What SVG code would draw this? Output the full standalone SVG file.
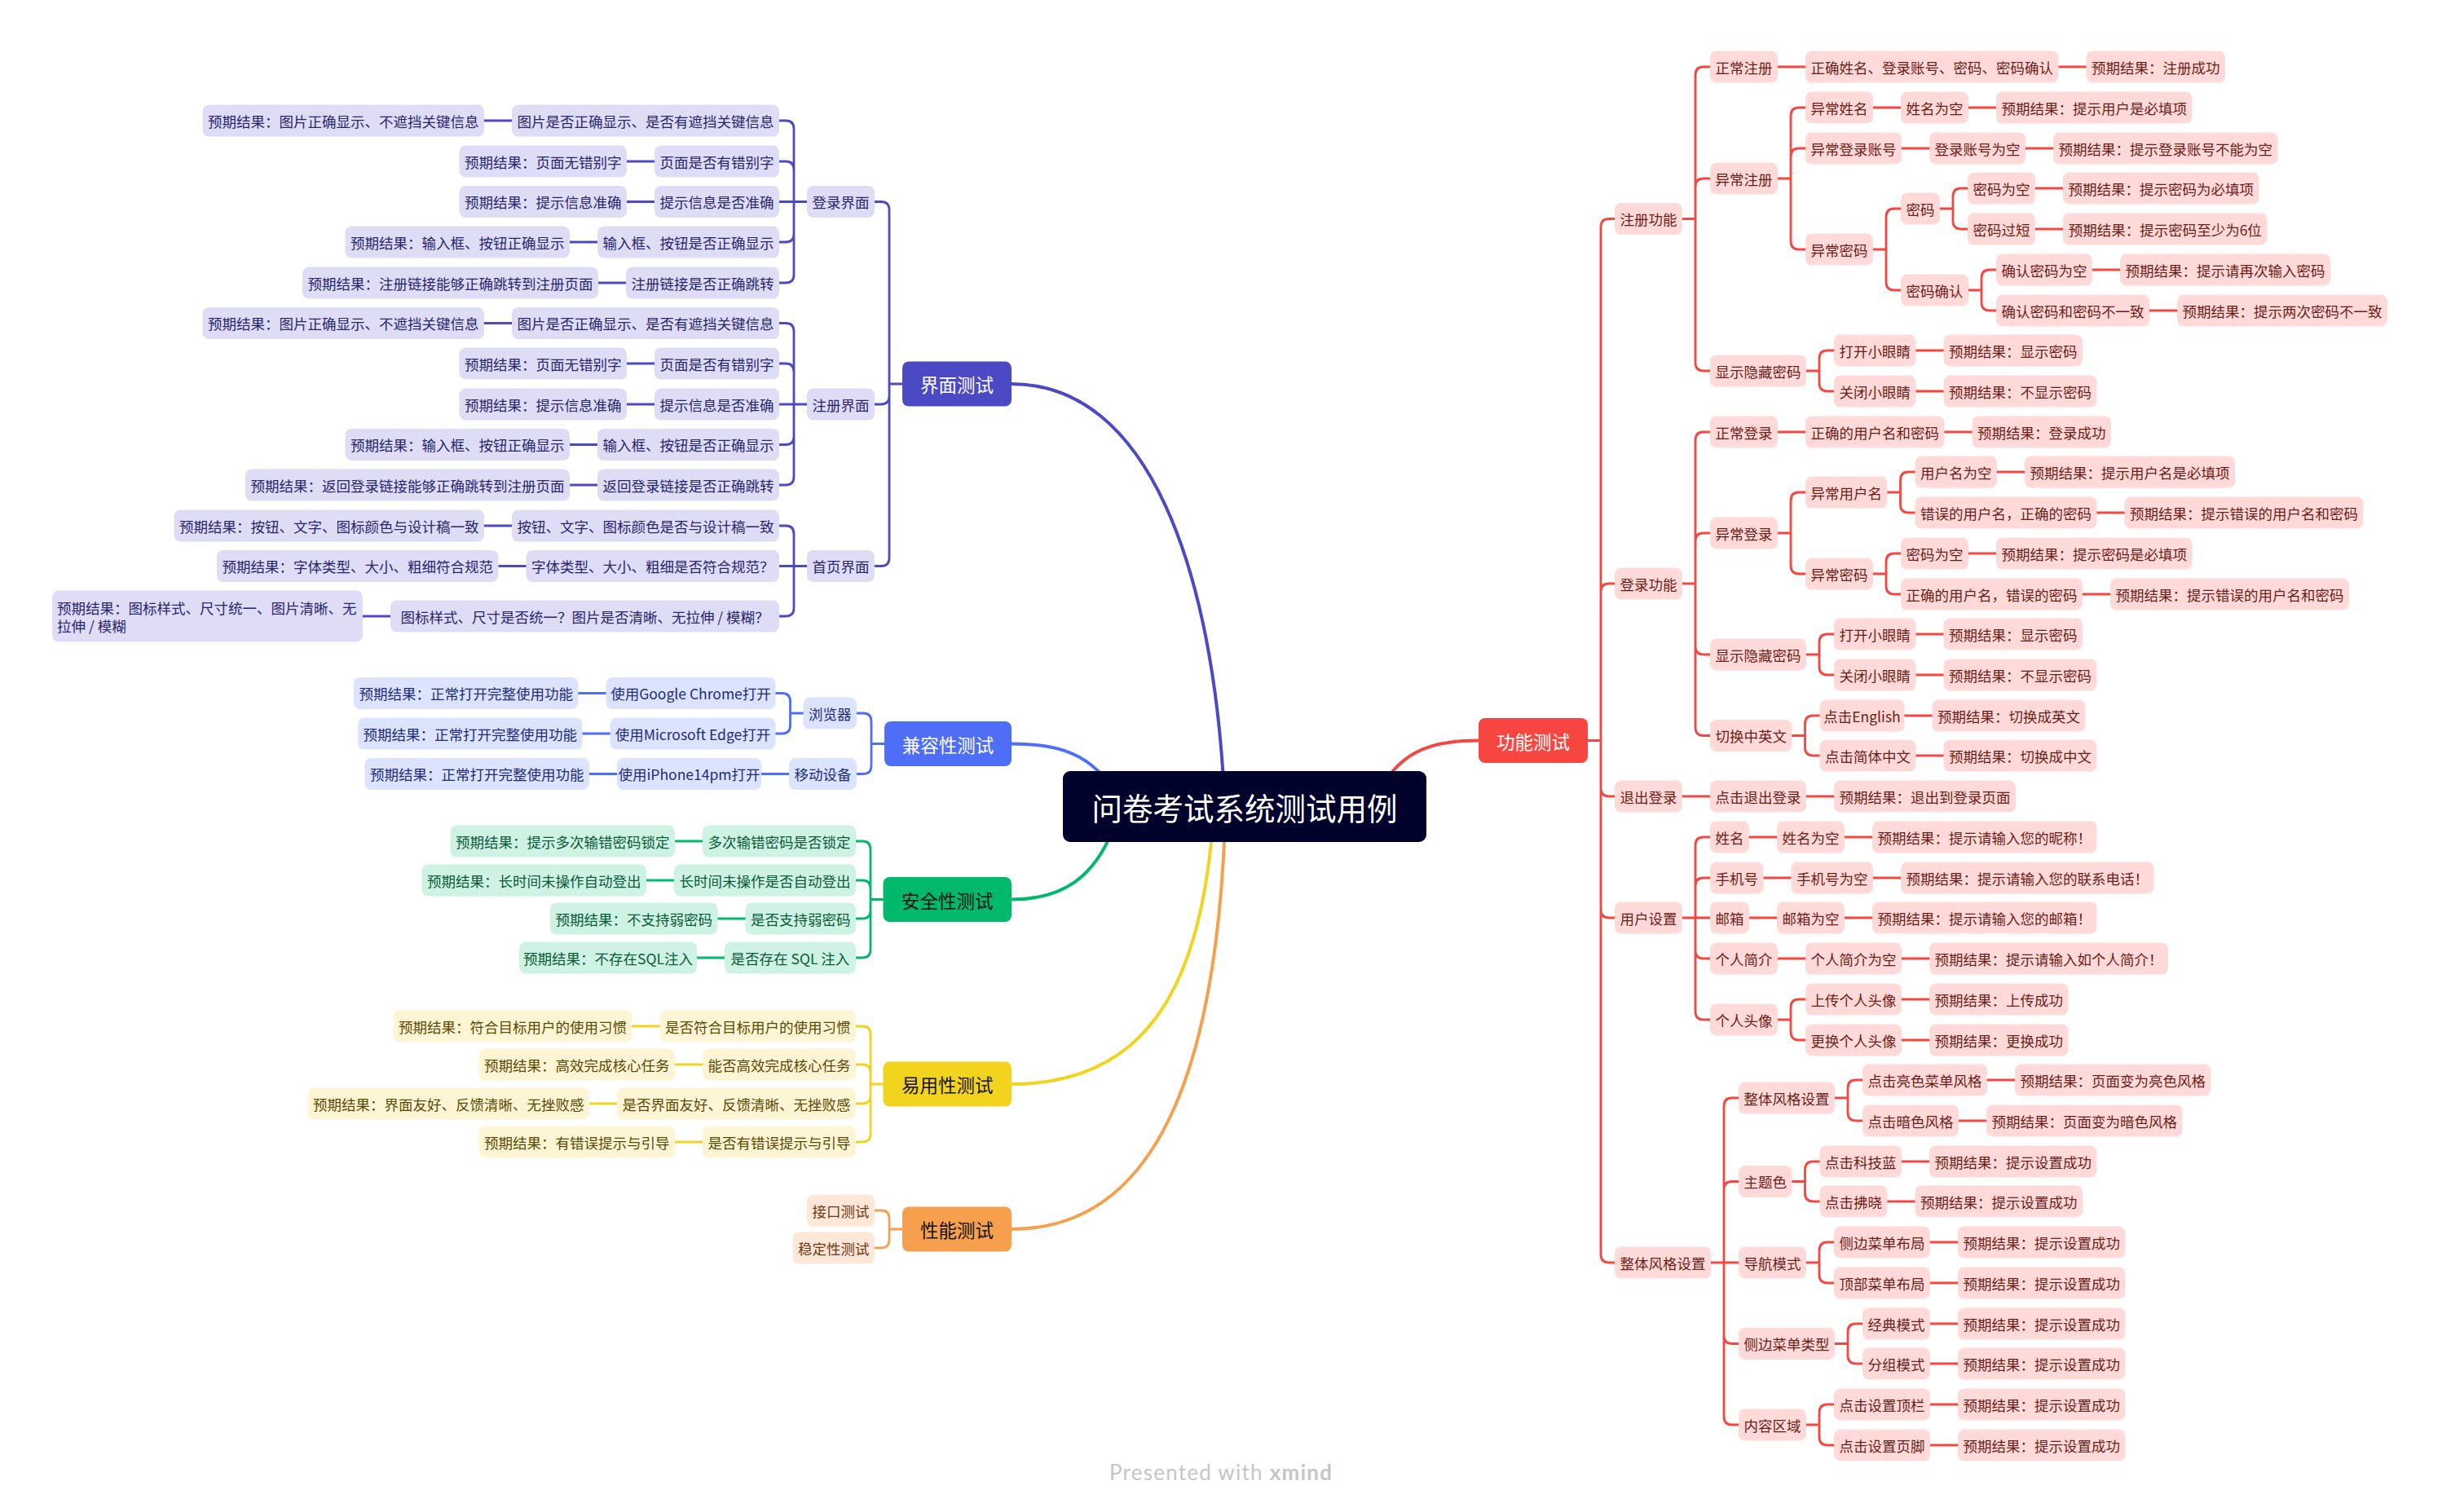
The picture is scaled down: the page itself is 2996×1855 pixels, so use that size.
<svg xmlns="http://www.w3.org/2000/svg" width="2996" height="1855" viewBox="0 0 2996 1855">
<style>
text{font-family:"Noto Sans CJK SC","Noto Sans",sans-serif;font-size:17.5px;text-anchor:middle;dominant-baseline:central}
.m text{font-size:22.5px}
.R rect{fill:#FFDAD8}.R text{fill:#6E1C17}
.V rect{fill:#DEDDF5}.V text{fill:#28256E}
.B rect{fill:#DCE3FE}.B text{fill:#1C2C78}
.G rect{fill:#CEF2E3}.G text{fill:#0A5B3A}
.Y rect{fill:#FDF5D4}.Y text{fill:#5B4A05}
.O rect{fill:#FDE7D8}.O text{fill:#6F3811}
.mR rect{fill:#F7463F}.mR text{fill:#fff}
.mV rect{fill:#4C49C5}.mV text{fill:#fff}
.mB rect{fill:#4F6EF7}.mB text{fill:#fff}
.mG rect{fill:#00B96B}.mG text{fill:#111}
.mY rect{fill:#F2D31E}.mY text{fill:#111}
.mO rect{fill:#F6A04E}.mO text{fill:#111}
.c{fill:none;stroke-width:2.8;stroke-linecap:round;stroke-linejoin:round}
.k{fill:none;stroke-width:4;stroke-linecap:round}
.cR{stroke:#F7463F}.cV{stroke:#4C49C5}.cB{stroke:#4F6EF7}.cG{stroke:#00B96B}.cY{stroke:#F2D31E}.cO{stroke:#F6A04E}
.foot{font-family:Lato,"Liberation Sans",sans-serif;font-size:26px;fill:#C6C6C6;text-anchor:start;dominant-baseline:alphabetic}
</style>
<rect width="2996" height="1855" fill="#fff"/>
<g id="connectors">
<path class="k cV" d="M1502,975 C1488,700 1410,471 1241,471"/>
<path class="k cB" d="M1370,975 C1340,925 1300,912.5 1241,912.5"/>
<path class="k cG" d="M1370,1005 C1345,1080 1300,1103.5 1241,1103.5"/>
<path class="k cY" d="M1488,1010 C1472,1220 1400,1330 1241,1330"/>
<path class="k cO" d="M1503,1010 C1492,1310 1420,1508 1241,1508"/>
<path class="k cR" d="M1690,975 C1715,925 1750,908.5 1814,908.5"/>
<path class="c cR" d="M1948,908.5 H1964 V278.5 Q1964,268.5 1974,268.5 H1981 M1964,908.5 V726 Q1964,716 1974,716 H1981 M1964,908.5 V967 Q1964,977 1974,977 H1981 M1964,908.5 V1116 Q1964,1126 1974,1126 H1981 M1964,908.5 V1539 Q1964,1549 1974,1549 H1981"/>
<path class="c cR" d="M2064,268.5 H2080 V92 Q2080,82 2090,82 H2098 M2080,268.5 V229 Q2080,219 2090,219 H2098 M2080,268.5 V445 Q2080,455 2090,455 H2098 M2181,82 H2215 M2525.5,82 H2559.5"/>
<path class="c cR" d="M2181,219 H2197 V142 Q2197,132 2207,132 H2215 M2197,219 V192 Q2197,182 2207,182 H2215 M2197,219 V296 Q2197,306 2207,306 H2215 M2298,132 H2332 M2415,132 H2449 M2333,182 H2367 M2485,182 H2519"/>
<path class="c cR" d="M2298,306 H2314 V266 Q2314,256 2324,256 H2332 M2314,306 V346 Q2314,356 2324,356 H2332 M2380,256 H2396 V241 Q2396,231 2406,231 H2414 M2396,256 V271 Q2396,281 2406,281 H2414 M2497,231 H2531 M2497,281 H2531 M2415,356 H2431 V341 Q2431,331 2441,331 H2449 M2431,356 V371 Q2431,381 2441,381 H2449 M2567,331 H2601 M2637,381 H2671"/>
<path class="c cR" d="M2216,455 H2232 V440 Q2232,430 2242,430 H2250 M2232,455 V470 Q2232,480 2242,480 H2250 M2350.5,430 H2384.5 M2350.5,480 H2384.5"/>
<path class="c cR" d="M2064,716 H2080 V540 Q2080,530 2090,530 H2098 M2080,716 V664 Q2080,654 2090,654 H2098 M2080,716 V793 Q2080,803 2090,803 H2098 M2080,716 V892.5 Q2080,902.5 2090,902.5 H2098 M2181,530 H2215 M2385.5,530 H2419.5"/>
<path class="c cR" d="M2181,654 H2197 V614 Q2197,604 2207,604 H2215 M2197,654 V694 Q2197,704 2207,704 H2215 M2315.5,604 H2331.5 V589 Q2331.5,579 2341.5,579 H2349.5 M2331.5,604 V619 Q2331.5,629 2341.5,629 H2349.5 M2450,579 H2484 M2572.5,629 H2606.5 M2298,704 H2314 V689 Q2314,679 2324,679 H2332 M2314,704 V719 Q2314,729 2324,729 H2332 M2415,679 H2449 M2555,729 H2589"/>
<path class="c cR" d="M2216,803 H2232 V788 Q2232,778 2242,778 H2250 M2232,803 V818 Q2232,828 2242,828 H2250 M2350.5,778 H2384.5 M2350.5,828 H2384.5 M2198.5,902.5 H2214.5 V888 Q2214.5,878 2224.5,878 H2232.5 M2214.5,902.5 V917 Q2214.5,927 2224.5,927 H2232.5 M2336.5,878 H2370.5 M2350.5,927 H2384.5"/>
<path class="c cR" d="M2064,977 H2098 M2216,977 H2250"/>
<path class="c cR" d="M2064,1126 H2098 M2080,1126 V1037 Q2080,1027 2090,1027 H2098 M2080,1126 V1087 Q2080,1077 2090,1077 H2098 M2080,1126 V1166 Q2080,1176 2090,1176 H2098 M2080,1126 V1241 Q2080,1251 2090,1251 H2098 M2146,1027 H2180 M2263,1027 H2297 M2163.5,1077 H2197.5 M2298,1077 H2332 M2146,1126 H2180 M2263,1126 H2297 M2181,1176 H2215 M2333,1176 H2367"/>
<path class="c cR" d="M2181,1251 H2197 V1236 Q2197,1226 2207,1226 H2215 M2197,1251 V1266 Q2197,1276 2207,1276 H2215 M2333,1226 H2367 M2333,1276 H2367"/>
<path class="c cR" d="M2099,1549 H2133 M2115,1549 V1357 Q2115,1347 2125,1347 H2133 M2115,1549 V1459.5 Q2115,1449.5 2125,1449.5 H2133 M2115,1549 V1638.5 Q2115,1648.5 2125,1648.5 H2133 M2115,1549 V1738 Q2115,1748 2125,1748 H2133"/>
<path class="c cR" d="M2251,1347 H2267 V1335 Q2267,1325 2277,1325 H2285 M2267,1347 V1365 Q2267,1375 2277,1375 H2285 M2438,1325 H2472 M2403,1375 H2437 M2198.5,1449.5 H2214.5 V1435 Q2214.5,1425 2224.5,1425 H2232.5 M2214.5,1449.5 V1464 Q2214.5,1474 2224.5,1474 H2232.5 M2333,1425 H2367 M2315.5,1474 H2349.5"/>
<path class="c cR" d="M2216,1549 H2232 V1534 Q2232,1524 2242,1524 H2250 M2232,1549 V1564 Q2232,1574 2242,1574 H2250 M2368,1524 H2402 M2368,1574 H2402 M2251,1648.5 H2267 V1634 Q2267,1624 2277,1624 H2285 M2267,1648.5 V1663 Q2267,1673 2277,1673 H2285 M2368,1624 H2402 M2368,1673 H2402 M2216,1748 H2232 V1733 Q2232,1723 2242,1723 H2250 M2232,1748 V1763 Q2232,1773 2242,1773 H2250 M2368,1723 H2402 M2368,1773 H2402"/>
<path class="c cV" d="M1107,471 H1091 V257.5 Q1091,247.5 1081,247.5 H1073 M1091,471 V486 Q1091,496 1081,496 H1073 M1091,471 V684.5 Q1091,694.5 1081,694.5 H1073"/>
<path class="c cV" d="M990,247.5 H956 M974,247.5 V158 Q974,148 964,148 H956 M974,247.5 V208 Q974,198 964,198 H956 M974,247.5 V287 Q974,297 964,297 H956 M974,247.5 V337 Q974,347 964,347 H956 M628,148 H594 M803,198 H769 M803,247.5 H769 M733,297 H699 M768,347 H734"/>
<path class="c cV" d="M990,496 H956 M974,496 V406.5 Q974,396.5 964,396.5 H956 M974,496 V456 Q974,446 964,446 H956 M974,496 V535.5 Q974,545.5 964,545.5 H956 M974,496 V585 Q974,595 964,595 H956 M628,396.5 H594 M803,446 H769 M803,496 H769 M733,545.5 H699 M733,595 H699"/>
<path class="c cV" d="M990,694.5 H956 M974,694.5 V655 Q974,645 964,645 H956 M974,694.5 V746 Q974,756 964,756 H956 M628,645 H594 M645.5,694.5 H611.5 M479,756 H445"/>
<path class="c cB" d="M1085,912.5 H1069 V885 Q1069,875 1059,875 H1051 M1069,912.5 V939.5 Q1069,949.5 1059,949.5 H1051 M985.5,875 H969.5 V860.5 Q969.5,850.5 959.5,850.5 H951.5 M969.5,875 V890 Q969.5,900 959.5,900 H951.5 M743.5,850.5 H709.5 M748.5,900 H714.5 M968,949.5 H934 M757,949.5 H723"/>
<path class="c cG" d="M1083.5,1103.5 H1068 V1042 Q1068,1032 1058,1032 H1050 M1068,1103.5 V1090 Q1068,1080 1058,1080 H1050 M1068,1103.5 V1117 Q1068,1127 1058,1127 H1050 M1068,1103.5 V1165 Q1068,1175 1058,1175 H1050 M862,1032 H828 M827,1080 H793 M914.5,1127 H880.5 M889,1175 H855"/>
<path class="c cY" d="M1083.5,1330 H1068 V1269 Q1068,1259 1058,1259 H1050 M1068,1330 V1316 Q1068,1306 1058,1306 H1050 M1068,1330 V1344 Q1068,1354 1058,1354 H1050 M1068,1330 V1391 Q1068,1401 1058,1401 H1050 M809.5,1259 H775.5 M862,1306 H828 M757,1354 H723 M862,1401 H828"/>
<path class="c cO" d="M1107,1508 H1091 V1495 Q1091,1485 1081,1485 H1073 M1091,1508 V1521 Q1091,1531 1081,1531 H1073"/>
</g>
<g id="center"><rect x="1304" y="946" width="446" height="87" rx="9" fill="#00022B"/><text x="1527" y="989.5" style="font-size:37.5px;fill:#fff">问卷考试系统测试用例</text></g>
<g id="t-gongneng" class="m mR"><rect x="1814" y="881" width="134" height="55" rx="8"/><text x="1881" y="908.5">功能测试</text></g>
<g id="t-jiemian" class="m mV"><rect x="1107" y="443.5" width="134" height="55" rx="8"/><text x="1174" y="471">界面测试</text></g>
<g id="t-jianrong" class="m mB"><rect x="1085" y="885" width="156" height="55" rx="8"/><text x="1163" y="912.5">兼容性测试</text></g>
<g id="t-anquan" class="m mG"><rect x="1083.5" y="1076" width="157.5" height="55" rx="8"/><text x="1162.25" y="1103.5">安全性测试</text></g>
<g id="t-yiyong" class="m mY"><rect x="1083.5" y="1302.5" width="157.5" height="55" rx="8"/><text x="1162.25" y="1330">易用性测试</text></g>
<g id="t-xingneng" class="m mO"><rect x="1107" y="1480.5" width="134" height="55" rx="8"/><text x="1174" y="1508">性能测试</text></g>
<g id="r1" class="R"><rect x="1981" y="249" width="83" height="39" rx="8"/><text x="2022.5" y="268.5">注册功能</text></g>
<g id="r2" class="R"><rect x="2098" y="62.5" width="83" height="39" rx="8"/><text x="2139.5" y="82">正常注册</text></g>
<g id="r3" class="R"><rect x="2215" y="62.5" width="310.5" height="39" rx="8"/><text x="2370.25" y="82">正确姓名、登录账号、密码、密码确认</text></g>
<g id="r4" class="R"><rect x="2559.5" y="62.5" width="170.5" height="39" rx="8"/><text x="2644.75" y="82">预期结果：注册成功</text></g>
<g id="r5" class="R"><rect x="2098" y="199.5" width="83" height="39" rx="8"/><text x="2139.5" y="219">异常注册</text></g>
<g id="r6" class="R"><rect x="2215" y="112.5" width="83" height="39" rx="8"/><text x="2256.5" y="132">异常姓名</text></g>
<g id="r7" class="R"><rect x="2332" y="112.5" width="83" height="39" rx="8"/><text x="2373.5" y="132">姓名为空</text></g>
<g id="r8" class="R"><rect x="2449" y="112.5" width="240.5" height="39" rx="8"/><text x="2569.25" y="132">预期结果：提示用户是必填项</text></g>
<g id="r9" class="R"><rect x="2215" y="162.5" width="118" height="39" rx="8"/><text x="2274" y="182">异常登录账号</text></g>
<g id="r10" class="R"><rect x="2367" y="162.5" width="118" height="39" rx="8"/><text x="2426" y="182">登录账号为空</text></g>
<g id="r11" class="R"><rect x="2519" y="162.5" width="275.5" height="39" rx="8"/><text x="2656.75" y="182">预期结果：提示登录账号不能为空</text></g>
<g id="r12" class="R"><rect x="2215" y="286.5" width="83" height="39" rx="8"/><text x="2256.5" y="306">异常密码</text></g>
<g id="r13" class="R"><rect x="2332" y="236.5" width="48" height="39" rx="8"/><text x="2356" y="256">密码</text></g>
<g id="r14" class="R"><rect x="2414" y="211.5" width="83" height="39" rx="8"/><text x="2455.5" y="231">密码为空</text></g>
<g id="r15" class="R"><rect x="2531" y="211.5" width="240.5" height="39" rx="8"/><text x="2651.25" y="231">预期结果：提示密码为必填项</text></g>
<g id="r16" class="R"><rect x="2414" y="261.5" width="83" height="39" rx="8"/><text x="2455.5" y="281">密码过短</text></g>
<g id="r17" class="R"><rect x="2531" y="261.5" width="250.5" height="39" rx="8"/><text x="2656.25" y="281">预期结果：提示密码至少为6位</text></g>
<g id="r18" class="R"><rect x="2332" y="336.5" width="83" height="39" rx="8"/><text x="2373.5" y="356">密码确认</text></g>
<g id="r19" class="R"><rect x="2449" y="311.5" width="118" height="39" rx="8"/><text x="2508" y="331">确认密码为空</text></g>
<g id="r20" class="R"><rect x="2601" y="311.5" width="258" height="39" rx="8"/><text x="2730" y="331">预期结果：提示请再次输入密码</text></g>
<g id="r21" class="R"><rect x="2449" y="361.5" width="188" height="39" rx="8"/><text x="2543" y="381">确认密码和密码不一致</text></g>
<g id="r22" class="R"><rect x="2671" y="361.5" width="258" height="39" rx="8"/><text x="2800" y="381">预期结果：提示两次密码不一致</text></g>
<g id="r23" class="R"><rect x="2098" y="435.5" width="118" height="39" rx="8"/><text x="2157" y="455">显示隐藏密码</text></g>
<g id="r24" class="R"><rect x="2250" y="410.5" width="100.5" height="39" rx="8"/><text x="2300.25" y="430">打开小眼睛</text></g>
<g id="r25" class="R"><rect x="2384.5" y="410.5" width="170.5" height="39" rx="8"/><text x="2469.75" y="430">预期结果：显示密码</text></g>
<g id="r26" class="R"><rect x="2250" y="460.5" width="100.5" height="39" rx="8"/><text x="2300.25" y="480">关闭小眼睛</text></g>
<g id="r27" class="R"><rect x="2384.5" y="460.5" width="188" height="39" rx="8"/><text x="2478.5" y="480">预期结果：不显示密码</text></g>
<g id="r28" class="R"><rect x="1981" y="696.5" width="83" height="39" rx="8"/><text x="2022.5" y="716">登录功能</text></g>
<g id="r29" class="R"><rect x="2098" y="510.5" width="83" height="39" rx="8"/><text x="2139.5" y="530">正常登录</text></g>
<g id="r30" class="R"><rect x="2215" y="510.5" width="170.5" height="39" rx="8"/><text x="2300.25" y="530">正确的用户名和密码</text></g>
<g id="r31" class="R"><rect x="2419.5" y="510.5" width="170.5" height="39" rx="8"/><text x="2504.75" y="530">预期结果：登录成功</text></g>
<g id="r32" class="R"><rect x="2098" y="634.5" width="83" height="39" rx="8"/><text x="2139.5" y="654">异常登录</text></g>
<g id="r33" class="R"><rect x="2215" y="584.5" width="100.5" height="39" rx="8"/><text x="2265.25" y="604">异常用户名</text></g>
<g id="r34" class="R"><rect x="2349.5" y="559.5" width="100.5" height="39" rx="8"/><text x="2399.75" y="579">用户名为空</text></g>
<g id="r35" class="R"><rect x="2484" y="559.5" width="258" height="39" rx="8"/><text x="2613" y="579">预期结果：提示用户名是必填项</text></g>
<g id="r36" class="R"><rect x="2349.5" y="609.5" width="223" height="39" rx="8"/><text x="2461" y="629">错误的用户名，正确的密码</text></g>
<g id="r37" class="R"><rect x="2606.5" y="609.5" width="293" height="39" rx="8"/><text x="2753" y="629">预期结果：提示错误的用户名和密码</text></g>
<g id="r38" class="R"><rect x="2215" y="684.5" width="83" height="39" rx="8"/><text x="2256.5" y="704">异常密码</text></g>
<g id="r39" class="R"><rect x="2332" y="659.5" width="83" height="39" rx="8"/><text x="2373.5" y="679">密码为空</text></g>
<g id="r40" class="R"><rect x="2449" y="659.5" width="240.5" height="39" rx="8"/><text x="2569.25" y="679">预期结果：提示密码是必填项</text></g>
<g id="r41" class="R"><rect x="2332" y="709.5" width="223" height="39" rx="8"/><text x="2443.5" y="729">正确的用户名，错误的密码</text></g>
<g id="r42" class="R"><rect x="2589" y="709.5" width="293" height="39" rx="8"/><text x="2735.5" y="729">预期结果：提示错误的用户名和密码</text></g>
<g id="r43" class="R"><rect x="2098" y="783.5" width="118" height="39" rx="8"/><text x="2157" y="803">显示隐藏密码</text></g>
<g id="r44" class="R"><rect x="2250" y="758.5" width="100.5" height="39" rx="8"/><text x="2300.25" y="778">打开小眼睛</text></g>
<g id="r45" class="R"><rect x="2384.5" y="758.5" width="170.5" height="39" rx="8"/><text x="2469.75" y="778">预期结果：显示密码</text></g>
<g id="r46" class="R"><rect x="2250" y="808.5" width="100.5" height="39" rx="8"/><text x="2300.25" y="828">关闭小眼睛</text></g>
<g id="r47" class="R"><rect x="2384.5" y="808.5" width="188" height="39" rx="8"/><text x="2478.5" y="828">预期结果：不显示密码</text></g>
<g id="r48" class="R"><rect x="2098" y="883" width="100.5" height="39" rx="8"/><text x="2148.25" y="902.5">切换中英文</text></g>
<g id="r49" class="R"><rect x="2232.5" y="858.5" width="104" height="39" rx="8"/><text x="2284.5" y="878">点击English</text></g>
<g id="r50" class="R"><rect x="2370.5" y="858.5" width="188" height="39" rx="8"/><text x="2464.5" y="878">预期结果：切换成英文</text></g>
<g id="r51" class="R"><rect x="2232.5" y="907.5" width="118" height="39" rx="8"/><text x="2291.5" y="927">点击简体中文</text></g>
<g id="r52" class="R"><rect x="2384.5" y="907.5" width="188" height="39" rx="8"/><text x="2478.5" y="927">预期结果：切换成中文</text></g>
<g id="r53" class="R"><rect x="1981" y="957.5" width="83" height="39" rx="8"/><text x="2022.5" y="977">退出登录</text></g>
<g id="r54" class="R"><rect x="2098" y="957.5" width="118" height="39" rx="8"/><text x="2157" y="977">点击退出登录</text></g>
<g id="r55" class="R"><rect x="2250" y="957.5" width="223" height="39" rx="8"/><text x="2361.5" y="977">预期结果：退出到登录页面</text></g>
<g id="r56" class="R"><rect x="1981" y="1106.5" width="83" height="39" rx="8"/><text x="2022.5" y="1126">用户设置</text></g>
<g id="r57" class="R"><rect x="2098" y="1007.5" width="48" height="39" rx="8"/><text x="2122" y="1027">姓名</text></g>
<g id="r58" class="R"><rect x="2180" y="1007.5" width="83" height="39" rx="8"/><text x="2221.5" y="1027">姓名为空</text></g>
<g id="r59" class="R"><rect x="2297" y="1007.5" width="275.5" height="39" rx="8"/><text x="2434.75" y="1027">预期结果：提示请输入您的昵称！</text></g>
<g id="r60" class="R"><rect x="2098" y="1057.5" width="65.5" height="39" rx="8"/><text x="2130.75" y="1077">手机号</text></g>
<g id="r61" class="R"><rect x="2197.5" y="1057.5" width="100.5" height="39" rx="8"/><text x="2247.75" y="1077">手机号为空</text></g>
<g id="r62" class="R"><rect x="2332" y="1057.5" width="310.5" height="39" rx="8"/><text x="2487.25" y="1077">预期结果：提示请输入您的联系电话！</text></g>
<g id="r63" class="R"><rect x="2098" y="1106.5" width="48" height="39" rx="8"/><text x="2122" y="1126">邮箱</text></g>
<g id="r64" class="R"><rect x="2180" y="1106.5" width="83" height="39" rx="8"/><text x="2221.5" y="1126">邮箱为空</text></g>
<g id="r65" class="R"><rect x="2297" y="1106.5" width="275.5" height="39" rx="8"/><text x="2434.75" y="1126">预期结果：提示请输入您的邮箱！</text></g>
<g id="r66" class="R"><rect x="2098" y="1156.5" width="83" height="39" rx="8"/><text x="2139.5" y="1176">个人简介</text></g>
<g id="r67" class="R"><rect x="2215" y="1156.5" width="118" height="39" rx="8"/><text x="2274" y="1176">个人简介为空</text></g>
<g id="r68" class="R"><rect x="2367" y="1156.5" width="293" height="39" rx="8"/><text x="2513.5" y="1176">预期结果：提示请输入如个人简介！</text></g>
<g id="r69" class="R"><rect x="2098" y="1231.5" width="83" height="39" rx="8"/><text x="2139.5" y="1251">个人头像</text></g>
<g id="r70" class="R"><rect x="2215" y="1206.5" width="118" height="39" rx="8"/><text x="2274" y="1226">上传个人头像</text></g>
<g id="r71" class="R"><rect x="2367" y="1206.5" width="170.5" height="39" rx="8"/><text x="2452.25" y="1226">预期结果：上传成功</text></g>
<g id="r72" class="R"><rect x="2215" y="1256.5" width="118" height="39" rx="8"/><text x="2274" y="1276">更换个人头像</text></g>
<g id="r73" class="R"><rect x="2367" y="1256.5" width="170.5" height="39" rx="8"/><text x="2452.25" y="1276">预期结果：更换成功</text></g>
<g id="r74" class="R"><rect x="1981" y="1529.5" width="118" height="39" rx="8"/><text x="2040" y="1549">整体风格设置</text></g>
<g id="r75" class="R"><rect x="2133" y="1327.5" width="118" height="39" rx="8"/><text x="2192" y="1347">整体风格设置</text></g>
<g id="r76" class="R"><rect x="2285" y="1305.5" width="153" height="39" rx="8"/><text x="2361.5" y="1325">点击亮色菜单风格</text></g>
<g id="r77" class="R"><rect x="2472" y="1305.5" width="240.5" height="39" rx="8"/><text x="2592.25" y="1325">预期结果：页面变为亮色风格</text></g>
<g id="r78" class="R"><rect x="2285" y="1355.5" width="118" height="39" rx="8"/><text x="2344" y="1375">点击暗色风格</text></g>
<g id="r79" class="R"><rect x="2437" y="1355.5" width="240.5" height="39" rx="8"/><text x="2557.25" y="1375">预期结果：页面变为暗色风格</text></g>
<g id="r80" class="R"><rect x="2133" y="1430" width="65.5" height="39" rx="8"/><text x="2165.75" y="1449.5">主题色</text></g>
<g id="r81" class="R"><rect x="2232.5" y="1405.5" width="100.5" height="39" rx="8"/><text x="2282.75" y="1425">点击科技蓝</text></g>
<g id="r82" class="R"><rect x="2367" y="1405.5" width="205.5" height="39" rx="8"/><text x="2469.75" y="1425">预期结果：提示设置成功</text></g>
<g id="r83" class="R"><rect x="2232.5" y="1454.5" width="83" height="39" rx="8"/><text x="2274" y="1474">点击拂晓</text></g>
<g id="r84" class="R"><rect x="2349.5" y="1454.5" width="205.5" height="39" rx="8"/><text x="2452.25" y="1474">预期结果：提示设置成功</text></g>
<g id="r85" class="R"><rect x="2133" y="1529.5" width="83" height="39" rx="8"/><text x="2174.5" y="1549">导航模式</text></g>
<g id="r86" class="R"><rect x="2250" y="1504.5" width="118" height="39" rx="8"/><text x="2309" y="1524">侧边菜单布局</text></g>
<g id="r87" class="R"><rect x="2402" y="1504.5" width="205.5" height="39" rx="8"/><text x="2504.75" y="1524">预期结果：提示设置成功</text></g>
<g id="r88" class="R"><rect x="2250" y="1554.5" width="118" height="39" rx="8"/><text x="2309" y="1574">顶部菜单布局</text></g>
<g id="r89" class="R"><rect x="2402" y="1554.5" width="205.5" height="39" rx="8"/><text x="2504.75" y="1574">预期结果：提示设置成功</text></g>
<g id="r90" class="R"><rect x="2133" y="1629" width="118" height="39" rx="8"/><text x="2192" y="1648.5">侧边菜单类型</text></g>
<g id="r91" class="R"><rect x="2285" y="1604.5" width="83" height="39" rx="8"/><text x="2326.5" y="1624">经典模式</text></g>
<g id="r92" class="R"><rect x="2402" y="1604.5" width="205.5" height="39" rx="8"/><text x="2504.75" y="1624">预期结果：提示设置成功</text></g>
<g id="r93" class="R"><rect x="2285" y="1653.5" width="83" height="39" rx="8"/><text x="2326.5" y="1673">分组模式</text></g>
<g id="r94" class="R"><rect x="2402" y="1653.5" width="205.5" height="39" rx="8"/><text x="2504.75" y="1673">预期结果：提示设置成功</text></g>
<g id="r95" class="R"><rect x="2133" y="1728.5" width="83" height="39" rx="8"/><text x="2174.5" y="1748">内容区域</text></g>
<g id="r96" class="R"><rect x="2250" y="1703.5" width="118" height="39" rx="8"/><text x="2309" y="1723">点击设置顶栏</text></g>
<g id="r97" class="R"><rect x="2402" y="1703.5" width="205.5" height="39" rx="8"/><text x="2504.75" y="1723">预期结果：提示设置成功</text></g>
<g id="r98" class="R"><rect x="2250" y="1753.5" width="118" height="39" rx="8"/><text x="2309" y="1773">点击设置页脚</text></g>
<g id="r99" class="R"><rect x="2402" y="1753.5" width="205.5" height="39" rx="8"/><text x="2504.75" y="1773">预期结果：提示设置成功</text></g>
<g id="v1" class="V"><rect x="990" y="228" width="83" height="39" rx="8"/><text x="1031.5" y="247.5">登录界面</text></g>
<g id="v2" class="V"><rect x="628" y="128.5" width="328" height="39" rx="8"/><text x="792" y="148">图片是否正确显示、是否有遮挡关键信息</text></g>
<g id="v3" class="V"><rect x="248.5" y="128.5" width="345.5" height="39" rx="8"/><text x="421.25" y="148">预期结果：图片正确显示、不遮挡关键信息</text></g>
<g id="v4" class="V"><rect x="803" y="178.5" width="153" height="39" rx="8"/><text x="879.5" y="198">页面是否有错别字</text></g>
<g id="v5" class="V"><rect x="563.5" y="178.5" width="205.5" height="39" rx="8"/><text x="666.25" y="198">预期结果：页面无错别字</text></g>
<g id="v6" class="V"><rect x="803" y="228" width="153" height="39" rx="8"/><text x="879.5" y="247.5">提示信息是否准确</text></g>
<g id="v7" class="V"><rect x="563.5" y="228" width="205.5" height="39" rx="8"/><text x="666.25" y="247.5">预期结果：提示信息准确</text></g>
<g id="v8" class="V"><rect x="733" y="277.5" width="223" height="39" rx="8"/><text x="844.5" y="297">输入框、按钮是否正确显示</text></g>
<g id="v9" class="V"><rect x="423.5" y="277.5" width="275.5" height="39" rx="8"/><text x="561.25" y="297">预期结果：输入框、按钮正确显示</text></g>
<g id="v10" class="V"><rect x="768" y="327.5" width="188" height="39" rx="8"/><text x="862" y="347">注册链接是否正确跳转</text></g>
<g id="v11" class="V"><rect x="371" y="327.5" width="363" height="39" rx="8"/><text x="552.5" y="347">预期结果：注册链接能够正确跳转到注册页面</text></g>
<g id="v12" class="V"><rect x="990" y="476.5" width="83" height="39" rx="8"/><text x="1031.5" y="496">注册界面</text></g>
<g id="v13" class="V"><rect x="628" y="377" width="328" height="39" rx="8"/><text x="792" y="396.5">图片是否正确显示、是否有遮挡关键信息</text></g>
<g id="v14" class="V"><rect x="248.5" y="377" width="345.5" height="39" rx="8"/><text x="421.25" y="396.5">预期结果：图片正确显示、不遮挡关键信息</text></g>
<g id="v15" class="V"><rect x="803" y="426.5" width="153" height="39" rx="8"/><text x="879.5" y="446">页面是否有错别字</text></g>
<g id="v16" class="V"><rect x="563.5" y="426.5" width="205.5" height="39" rx="8"/><text x="666.25" y="446">预期结果：页面无错别字</text></g>
<g id="v17" class="V"><rect x="803" y="476.5" width="153" height="39" rx="8"/><text x="879.5" y="496">提示信息是否准确</text></g>
<g id="v18" class="V"><rect x="563.5" y="476.5" width="205.5" height="39" rx="8"/><text x="666.25" y="496">预期结果：提示信息准确</text></g>
<g id="v19" class="V"><rect x="733" y="526" width="223" height="39" rx="8"/><text x="844.5" y="545.5">输入框、按钮是否正确显示</text></g>
<g id="v20" class="V"><rect x="423.5" y="526" width="275.5" height="39" rx="8"/><text x="561.25" y="545.5">预期结果：输入框、按钮正确显示</text></g>
<g id="v21" class="V"><rect x="733" y="575.5" width="223" height="39" rx="8"/><text x="844.5" y="595">返回登录链接是否正确跳转</text></g>
<g id="v22" class="V"><rect x="301" y="575.5" width="398" height="39" rx="8"/><text x="500" y="595">预期结果：返回登录链接能够正确跳转到注册页面</text></g>
<g id="v23" class="V"><rect x="990" y="675" width="83" height="39" rx="8"/><text x="1031.5" y="694.5">首页界面</text></g>
<g id="v24" class="V"><rect x="628" y="625.5" width="328" height="39" rx="8"/><text x="792" y="645">按钮、文字、图标颜色是否与设计稿一致</text></g>
<g id="v25" class="V"><rect x="213.5" y="625.5" width="380.5" height="39" rx="8"/><text x="403.75" y="645">预期结果：按钮、文字、图标颜色与设计稿一致</text></g>
<g id="v26" class="V"><rect x="645.5" y="675" width="310.5" height="39" rx="8"/><text x="800.75" y="694.5">字体类型、大小、粗细是否符合规范？</text></g>
<g id="v27" class="V"><rect x="266" y="675" width="345.5" height="39" rx="8"/><text x="438.75" y="694.5">预期结果：字体类型、大小、粗细符合规范</text></g>
<g id="v28" class="V"><rect x="479" y="736.5" width="477" height="39" rx="8"/><text x="717.5" y="756" xml:space="preserve">图标样式、尺寸是否统一？图片是否清晰、无拉伸 / 模糊？</text></g>
<g id="v29" class="V"><rect x="64" y="724.5" width="381" height="63" rx="8"/><text x="70" y="745" style="text-anchor:start">预期结果：图标样式、尺寸统一、图片清晰、无</text><text x="70" y="767.5" style="text-anchor:start" xml:space="preserve">拉伸 / 模糊</text></g>
<g id="b1" class="B"><rect x="985.5" y="855.5" width="65.5" height="39" rx="8"/><text x="1018.25" y="875">浏览器</text></g>
<g id="b2" class="B"><rect x="743.5" y="831" width="208" height="39" rx="8"/><text x="847.5" y="850.5">使用Google Chrome打开</text></g>
<g id="b3" class="B"><rect x="434" y="831" width="275.5" height="39" rx="8"/><text x="571.75" y="850.5">预期结果：正常打开完整使用功能</text></g>
<g id="b4" class="B"><rect x="748.5" y="880.5" width="203" height="39" rx="8"/><text x="850" y="900">使用Microsoft Edge打开</text></g>
<g id="b5" class="B"><rect x="439" y="880.5" width="275.5" height="39" rx="8"/><text x="576.75" y="900">预期结果：正常打开完整使用功能</text></g>
<g id="b6" class="B"><rect x="968" y="930" width="83" height="39" rx="8"/><text x="1009.5" y="949.5">移动设备</text></g>
<g id="b7" class="B"><rect x="757" y="930" width="177" height="39" rx="8"/><text x="845.5" y="949.5">使用iPhone14pm打开</text></g>
<g id="b8" class="B"><rect x="447.5" y="930" width="275.5" height="39" rx="8"/><text x="585.25" y="949.5">预期结果：正常打开完整使用功能</text></g>
<g id="g1" class="G"><rect x="862" y="1012.5" width="188" height="39" rx="8"/><text x="956" y="1032">多次输错密码是否锁定</text></g>
<g id="g2" class="G"><rect x="552.5" y="1012.5" width="275.5" height="39" rx="8"/><text x="690.25" y="1032">预期结果：提示多次输错密码锁定</text></g>
<g id="g3" class="G"><rect x="827" y="1060.5" width="223" height="39" rx="8"/><text x="938.5" y="1080">长时间未操作是否自动登出</text></g>
<g id="g4" class="G"><rect x="517.5" y="1060.5" width="275.5" height="39" rx="8"/><text x="655.25" y="1080">预期结果：长时间未操作自动登出</text></g>
<g id="g5" class="G"><rect x="914.5" y="1107.5" width="135.5" height="39" rx="8"/><text x="982.25" y="1127">是否支持弱密码</text></g>
<g id="g6" class="G"><rect x="675" y="1107.5" width="205.5" height="39" rx="8"/><text x="777.75" y="1127">预期结果：不支持弱密码</text></g>
<g id="g7" class="G"><rect x="889" y="1155.5" width="161" height="39" rx="8"/><text x="969.5" y="1175" xml:space="preserve">是否存在 SQL 注入</text></g>
<g id="g8" class="G"><rect x="637" y="1155.5" width="218" height="39" rx="8"/><text x="746" y="1175">预期结果：不存在SQL注入</text></g>
<g id="y1" class="Y"><rect x="809.5" y="1239.5" width="240.5" height="39" rx="8"/><text x="929.75" y="1259">是否符合目标用户的使用习惯</text></g>
<g id="y2" class="Y"><rect x="482.5" y="1239.5" width="293" height="39" rx="8"/><text x="629" y="1259">预期结果：符合目标用户的使用习惯</text></g>
<g id="y3" class="Y"><rect x="862" y="1286.5" width="188" height="39" rx="8"/><text x="956" y="1306">能否高效完成核心任务</text></g>
<g id="y4" class="Y"><rect x="587.5" y="1286.5" width="240.5" height="39" rx="8"/><text x="707.75" y="1306">预期结果：高效完成核心任务</text></g>
<g id="y5" class="Y"><rect x="757" y="1334.5" width="293" height="39" rx="8"/><text x="903.5" y="1354">是否界面友好、反馈清晰、无挫败感</text></g>
<g id="y6" class="Y"><rect x="377.5" y="1334.5" width="345.5" height="39" rx="8"/><text x="550.25" y="1354">预期结果：界面友好、反馈清晰、无挫败感</text></g>
<g id="y7" class="Y"><rect x="862" y="1381.5" width="188" height="39" rx="8"/><text x="956" y="1401">是否有错误提示与引导</text></g>
<g id="y8" class="Y"><rect x="587.5" y="1381.5" width="240.5" height="39" rx="8"/><text x="707.75" y="1401">预期结果：有错误提示与引导</text></g>
<g id="o1" class="O"><rect x="990" y="1465.5" width="83" height="39" rx="8"/><text x="1031.5" y="1485">接口测试</text></g>
<g id="o2" class="O"><rect x="972.5" y="1511.5" width="100.5" height="39" rx="8"/><text x="1022.75" y="1531">稳定性测试</text></g>
<text class="foot" x="1361" y="1816" textLength="273" lengthAdjust="spacing">Presented with <tspan style="font-weight:bold">xmind</tspan></text>
</svg>
